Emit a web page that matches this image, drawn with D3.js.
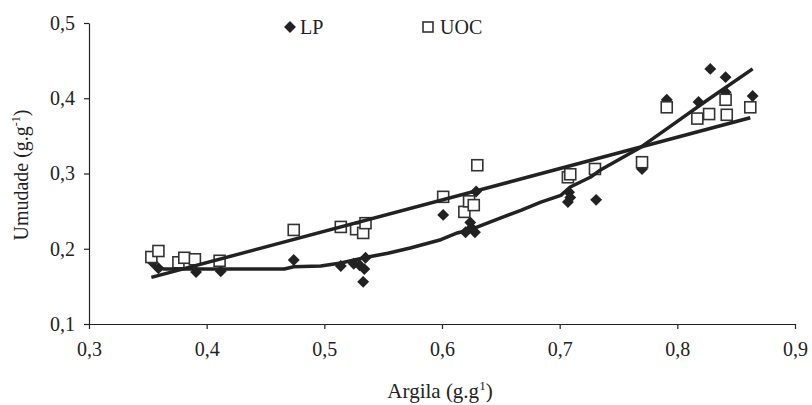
<!DOCTYPE html>
<html>
<head>
<meta charset="utf-8">
<script src="https://cdn.jsdelivr.net/npm/d3@7"></script>
<style>
  body { margin: 0; background: #fff; }
  text { font-family: "Liberation Serif", "Times New Roman", serif; fill: #222; }
</style>
</head>
<body>
<div class="chart"></div>
<script>
var svgWidth = 812;
var svgHeight = 405;

// LP (diamonds)
var lpArgila = [0.354, 0.359, 0.391, 0.412, 0.474,
  0.514, 0.525, 0.530, 0.535, 0.534, 0.533,
  0.601, 0.620, 0.624, 0.628, 0.625, 0.629,
  0.707, 0.709, 0.708, 0.731, 0.770,
  0.791, 0.818, 0.828, 0.841, 0.841, 0.864];
var lpUmidade = [0.182, 0.174, 0.169, 0.170, 0.185,
  0.177, 0.180, 0.178, 0.188, 0.173, 0.156,
  0.245, 0.222, 0.235, 0.222, 0.228, 0.276,
  0.262, 0.268, 0.275, 0.265, 0.306,
  0.398, 0.395, 0.439, 0.428, 0.408, 0.403];

// UOC (squares)
var uocArgila = [0.353, 0.359, 0.376, 0.381, 0.390, 0.411, 0.474,
  0.514, 0.527, 0.533, 0.535,
  0.601, 0.619, 0.623, 0.627, 0.630,
  0.707, 0.709, 0.730, 0.770,
  0.791, 0.817, 0.827, 0.842, 0.841, 0.862];
var uocUmidade = [0.189, 0.197, 0.182, 0.188, 0.186, 0.184, 0.225,
  0.229, 0.226, 0.221, 0.234,
  0.269, 0.249, 0.263, 0.258, 0.311,
  0.295, 0.299, 0.306, 0.315,
  0.388, 0.373, 0.379, 0.378, 0.398, 0.388];

// trend lines as drawn in the figure
var lpTrendX = [0.355, 0.364, 0.420, 0.466, 0.474, 0.497, 0.514, 0.537, 0.554, 0.573,
  0.599, 0.613, 0.627, 0.650, 0.667, 0.684, 0.701, 0.709, 0.726, 0.735,
  0.752, 0.769, 0.797, 0.825, 0.864];
var lpTrendY = [0.177, 0.173, 0.173, 0.173, 0.176, 0.177, 0.181, 0.189, 0.194, 0.201,
  0.212, 0.221, 0.227, 0.241, 0.251, 0.262, 0.271, 0.282, 0.295, 0.305,
  0.320, 0.335, 0.366, 0.397, 0.439];
var uocTrendX = [0.353, 0.862];
var uocTrendY = [0.162, 0.374];

var xTicks = [0.3, 0.4, 0.5, 0.6, 0.7, 0.8, 0.9];
var yTicks = [0.1, 0.2, 0.3, 0.4, 0.5];

var fmt = function(v) { return d3.format(".1f")(v).replace(".", ","); };

var svg = d3.select(".chart")
  .append("svg")
  .attr("width", svgWidth)
  .attr("height", svgHeight);

var xScale = d3.scaleLinear().domain([0.3, 0.9]).range([89, 795]);
var yScale = d3.scaleLinear().domain([0.1, 0.5]).range([324, 23]);

// axes
var xAxis = svg.append("g")
  .attr("transform", `translate(0, ${yScale(0.1)})`)
  .call(d3.axisBottom(xScale).tickValues(xTicks).tickFormat(fmt).tickSize(5).tickSizeOuter(0).tickPadding(13));
var yAxis = svg.append("g")
  .attr("transform", `translate(${xScale(0.3)}, 0)`)
  .call(d3.axisLeft(yScale).tickValues(yTicks).tickFormat(fmt).tickSize(5).tickSizeOuter(0).tickPadding(9));

[xAxis, yAxis].forEach(function(a) {
  a.select(".domain").attr("stroke", "#222").attr("stroke-width", 1.2);
  a.selectAll(".tick line").attr("stroke", "#222").attr("stroke-width", 1.2);
  a.selectAll(".tick text")
    .attr("font-family", "Liberation Serif")
    .attr("font-size", 20)
    .attr("fill", "#222");
});

// markers
var diamond = d3.symbol().type(d3.symbolDiamond2).size(90);
svg.append("g").selectAll("path")
  .data(lpArgila)
  .enter()
  .append("path")
  .attr("d", diamond)
  .attr("transform", (d, i) => `translate(${xScale(d)}, ${yScale(lpUmidade[i])})`)
  .attr("fill", "#222");

svg.append("g").selectAll("rect")
  .data(uocArgila)
  .enter()
  .append("rect")
  .attr("x", d => xScale(d) - 5.5)
  .attr("y", (d, i) => yScale(uocUmidade[i]) - 5.5)
  .attr("width", 11)
  .attr("height", 11)
  .attr("fill", "#fff")
  .attr("stroke", "#333")
  .attr("stroke-width", 1.6);

// trend lines
var line = d3.line().x(d => xScale(d[0])).y(d => yScale(d[1]));
svg.append("path")
  .datum(lpTrendX.map((d, i) => [d, lpTrendY[i]]))
  .attr("d", line)
  .attr("fill", "none")
  .attr("stroke", "#222")
  .attr("stroke-width", 3.5)
  .attr("stroke-linejoin", "round");
svg.append("path")
  .datum(uocTrendX.map((d, i) => [d, uocTrendY[i]]))
  .attr("d", line)
  .attr("fill", "none")
  .attr("stroke", "#222")
  .attr("stroke-width", 3.5);

// legend
svg.append("path")
  .attr("d", diamond)
  .attr("transform", "translate(290, 27)")
  .attr("fill", "#222");
svg.append("text").attr("x", 300).attr("y", 34).attr("font-size", 20).text("LP");
svg.append("rect")
  .attr("x", 423).attr("y", 22).attr("width", 10).attr("height", 10)
  .attr("fill", "#fff").attr("stroke", "#333").attr("stroke-width", 1.6);
svg.append("text").attr("x", 440).attr("y", 34).attr("font-size", 20).text("UOC");

// axis titles
var xt = svg.append("text")
  .attr("x", 440).attr("y", 398)
  .attr("text-anchor", "middle")
  .attr("font-size", 21);
xt.append("tspan").text("Argila (g.g");
xt.append("tspan").attr("font-size", 13).attr("dy", -8).text("1");
xt.append("tspan").attr("dy", 8).text(")");

var yt = svg.append("text")
  .attr("transform", "translate(28, 175) rotate(-90)")
  .attr("text-anchor", "middle")
  .attr("font-size", 20);
yt.append("tspan").text("Umudade (g.g");
yt.append("tspan").attr("font-size", 12).attr("dy", -8).text("-1");
yt.append("tspan").attr("dy", 8).text(")");
</script>
</body>
</html>
